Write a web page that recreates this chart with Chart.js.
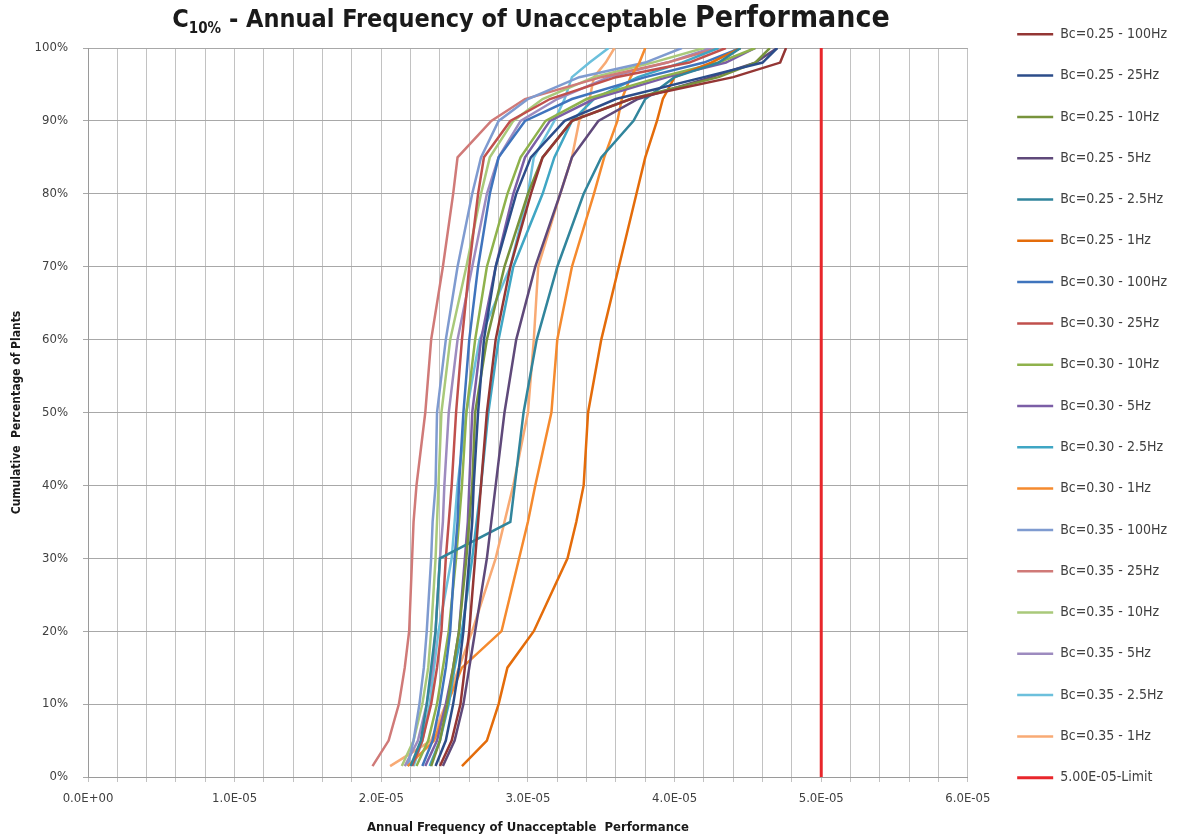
<!DOCTYPE html>
<html lang="en">
<head>
    <meta charset="UTF-8">
    <title>C10% - Annual Frequency of Unacceptable Performance</title>
    <script src="https://cdn.jsdelivr.net/npm/chart.js"></script>
    <style>
        body {
            margin: 0;
            background: #ffffff;
        }

        .wrap {
            position: relative;
            width: 1177px;
            height: 837px;
        }

        /* Title drawn as html so the subscript and the bigger last word stay text */
        .title {
            position: absolute;
            top: -1px;
            left: 0;
            width: 1062px;
            text-align: center;
            font-family: 'Liberation Sans Narrow', 'Arial Narrow', 'DejaVu Sans Condensed', sans-serif;
            font-weight: bold;
            font-size: 25px;
            color: #1a1a1a;
            white-space: nowrap;
        }

        .title sub {
            font-size: 15px;
        }

        .title .big {
            font-size: 30px;
        }
    </style>
</head>
<body>
    <div class="wrap">
        <canvas id="c10Chart" width="1177" height="837"></canvas>
        <div class="title">C<sub>10%</sub> - Annual Frequency of Unacceptable <span class="big">Performance</span></div>
    </div>

    <script>
        // cumulative percentage levels shared by every curve
        const levels = [1.5, 5, 10, 15, 20, 30, 35, 40, 50, 60, 70, 80, 85, 90, 93, 96, 98, 100];

        // frequencies, in units of 1E-05 per year
        const bc025_100 = [2.40, 2.48, 2.54, 2.57, 2.60, 2.64, 2.66, 2.68, 2.72, 2.78, 2.88, 3.02, 3.10, 3.30, 3.70, 4.40, 4.72, 4.76];
        const bc025_25  = [2.37, 2.44, 2.49, 2.53, 2.56, 2.60, 2.62, 2.63, 2.66, 2.70, 2.78, 2.92, 3.02, 3.25, 3.60, 4.20, 4.60, 4.70];
        const bc025_10  = [2.34, 2.40, 2.45, 2.49, 2.53, 2.58, 2.60, 2.62, 2.64, 2.72, 2.84, 3.00, 3.10, 3.30, 3.70, 4.30, 4.55, 4.65];
        const bc025_5   = [2.42, 2.50, 2.56, 2.60, 2.64, 2.72, 2.75, 2.78, 2.84, 2.92, 3.05, 3.22, 3.30, 3.48, 3.75, 4.25, 4.55, 4.70];
        const bc025_2_5 = [2.20, 2.27, 2.31, 2.34, 2.37, 2.40, 2.88, 2.91, 2.97, 3.06, 3.20, 3.38, 3.50, 3.72, 3.80, 4.00, 4.30, 4.45];
        const bc025_1   = [2.55, 2.72, 2.80, 2.86, 3.04, 3.27, 3.33, 3.38, 3.41, 3.50, 3.62, 3.74, 3.80, 3.88, 3.92, 4.00, 4.25, 4.45];
        const bc030_100 = [2.28, 2.35, 2.40, 2.44, 2.47, 2.50, 2.52, 2.53, 2.56, 2.60, 2.66, 2.74, 2.80, 2.98, 3.30, 3.80, 4.20, 4.45];
        const bc030_25  = [2.21, 2.28, 2.34, 2.38, 2.41, 2.44, 2.46, 2.48, 2.51, 2.55, 2.60, 2.66, 2.70, 2.88, 3.15, 3.60, 4.10, 4.35];
        const bc030_10  = [2.24, 2.32, 2.38, 2.42, 2.46, 2.51, 2.53, 2.55, 2.58, 2.64, 2.72, 2.86, 2.95, 3.12, 3.40, 3.90, 4.30, 4.55];
        const bc030_5   = [2.30, 2.38, 2.44, 2.49, 2.53, 2.57, 2.59, 2.60, 2.62, 2.68, 2.78, 2.90, 2.98, 3.15, 3.45, 3.95, 4.35, 4.55];
        const bc030_2_5 = [2.33, 2.40, 2.46, 2.50, 2.55, 2.62, 2.65, 2.68, 2.73, 2.80, 2.90, 3.10, 3.18, 3.30, 3.45, 3.75, 4.05, 4.30];
        const bc030_1   = [2.18, 2.36, 2.45, 2.55, 2.82, 2.94, 3.00, 3.05, 3.16, 3.20, 3.30, 3.45, 3.52, 3.61, 3.64, 3.70, 3.76, 3.80];
        const bc035_100 = [2.18, 2.22, 2.26, 2.29, 2.31, 2.34, 2.35, 2.37, 2.38, 2.44, 2.52, 2.62, 2.68, 2.80, 3.00, 3.35, 3.80, 4.05];
        const bc035_25  = [1.94, 2.05, 2.12, 2.16, 2.19, 2.21, 2.22, 2.24, 2.30, 2.34, 2.42, 2.49, 2.52, 2.75, 2.98, 3.50, 3.95, 4.30];
        const bc035_10  = [2.14, 2.22, 2.28, 2.32, 2.34, 2.37, 2.38, 2.39, 2.41, 2.47, 2.58, 2.68, 2.74, 2.90, 3.10, 3.45, 3.85, 4.20];
        const bc035_5   = [2.16, 2.25, 2.31, 2.35, 2.37, 2.40, 2.42, 2.43, 2.46, 2.52, 2.62, 2.72, 2.80, 2.95, 3.20, 3.55, 3.95, 4.25];
        const bc035_2_5 = [2.22, 2.28, 2.33, 2.36, 2.39, 2.48, 2.50, 2.52, 2.58, 2.67, 2.88, 3.00, 3.04, 3.18, 3.25, 3.30, 3.42, 3.55];
        const bc035_1   = [2.06, 2.34, 2.44, 2.53, 2.62, 2.78, 2.84, 2.90, 3.00, 3.04, 3.07, 3.22, 3.30, 3.35, 3.42, 3.45, 3.53, 3.59];

        const limitX = [5.0, 5.0];
        const limitY = [0, 100];

        const UNIT = 1e-5;

        const series = [
            { label: 'Bc=0.25 - 100Hz', xs: bc025_100, color: '#943634' },
            { label: 'Bc=0.25 - 25Hz',  xs: bc025_25,  color: '#2c4d8a' },
            { label: 'Bc=0.25 - 10Hz',  xs: bc025_10,  color: '#77933c' },
            { label: 'Bc=0.25 - 5Hz',   xs: bc025_5,   color: '#5f497a' },
            { label: 'Bc=0.25 - 2.5Hz', xs: bc025_2_5, color: '#31859c' },
            { label: 'Bc=0.25 - 1Hz',   xs: bc025_1,   color: '#e46c0a' },
            { label: 'Bc=0.30 - 100Hz', xs: bc030_100, color: '#3f74bd' },
            { label: 'Bc=0.30 - 25Hz',  xs: bc030_25,  color: '#c0504d' },
            { label: 'Bc=0.30 - 10Hz',  xs: bc030_10,  color: '#8fb24c' },
            { label: 'Bc=0.30 - 5Hz',   xs: bc030_5,   color: '#7b5ea6' },
            { label: 'Bc=0.30 - 2.5Hz', xs: bc030_2_5, color: '#3fa6c4' },
            { label: 'Bc=0.30 - 1Hz',   xs: bc030_1,   color: '#f58a2e' },
            { label: 'Bc=0.35 - 100Hz', xs: bc035_100, color: '#7f9bd0' },
            { label: 'Bc=0.35 - 25Hz',  xs: bc035_25,  color: '#d07a78' },
            { label: 'Bc=0.35 - 10Hz',  xs: bc035_10,  color: '#a9c97a' },
            { label: 'Bc=0.35 - 5Hz',   xs: bc035_5,   color: '#9d8bbf' },
            { label: 'Bc=0.35 - 2.5Hz', xs: bc035_2_5, color: '#6cc0dc' },
            { label: 'Bc=0.35 - 1Hz',   xs: bc035_1,   color: '#f8aa74' },
        ];

        const datasets = series.map(s => ({
            label: s.label,
            data: s.xs.map((v, i) => ({ x: v * UNIT, y: levels[i] })),
            xAxisID: 'x',
            yAxisID: 'y',
            borderColor: s.color,
            backgroundColor: s.color,
            borderWidth: 2.5,
            pointRadius: 0,
            tension: 0,
            fill: false,
        }));

        datasets.push({
            label: '5.00E-05-Limit',
            data: limitX.map((v, i) => ({ x: v * UNIT, y: limitY[i] })),
            xAxisID: 'x',
            yAxisID: 'y',
            borderColor: '#e8262b',
            backgroundColor: '#e8262b',
            borderWidth: 3,
            pointRadius: 0,
            fill: false,
        });

        // 1E-05 -> "1.0E-05", 0 -> "0.0E+00"
        function sci(value) {
            const n = Math.round(value / UNIT);
            if (n === 0) return '0.0E+00';
            return n.toFixed(1) + 'E-05';
        }

        const FONT = "'Liberation Sans Narrow', 'DejaVu Sans Condensed', sans-serif";

        // blank axes used only as spacers (room for the title, gap before the legend)
        const spacer = (pos, size) => ({
            type: 'linear',
            position: pos,
            min: 0,
            max: 1,
            display: true,
            grid: { display: false },
            border: { display: false },
            ticks: { display: false },
            afterFit: s => {
                if (pos === 'top') s.height = size; else s.width = size;
            }
        });

        const ctx = document.getElementById('c10Chart').getContext('2d');
        new Chart(ctx, {
            type: 'line',
            data: { datasets: datasets },
            options: {
                responsive: false,
                animation: false,
                layout: { padding: { top: 0, left: 0, right: 0, bottom: 0 } },
                plugins: {
                    title: { display: false },
                    tooltip: { enabled: false },
                    legend: {
                        position: 'right',
                        align: 'start',
                        labels: {
                            usePointStyle: true,
                            pointStyle: 'line',
                            pointStyleWidth: 36,
                            padding: 27.3,
                            color: '#404040',
                            font: { family: FONT, size: 14 },
                        }
                    }
                },
                scales: {
                    x: {
                        type: 'linear',
                        min: 0,
                        max: 6e-5,
                        grid: { color: '#c2c2c2', lineWidth: 1, drawTicks: true, tickLength: 5 },
                        border: { color: '#9a9a9a' },
                        afterFit: s => { s.height = 60; },
                        ticks: {
                            stepSize: 2e-6,
                            autoSkip: false,
                            maxRotation: 0,
                            padding: 9,
                            color: '#404040',
                            font: { family: FONT, size: 13 },
                            callback: function (value) {
                                const k = Math.round(value / 2e-6);
                                return k % 5 === 0 ? sci(value) : '';
                            }
                        },
                        title: {
                            display: true,
                            text: 'Annual Frequency of Unacceptable  Performance',
                            color: '#1a1a1a',
                            font: { family: FONT, size: 13, weight: 'bold' },
                            padding: { top: 4, bottom: 2 }
                        }
                    },
                    top: spacer('top', 48),
                    gap: spacer('right', 22),
                    y: {
                        min: 0,
                        max: 100,
                        grid: { color: '#a8a8a8', lineWidth: 1, drawTicks: true, tickLength: 5 },
                        border: { color: '#9a9a9a' },
                        afterFit: s => { s.width = 88; },
                        ticks: {
                            stepSize: 10,
                            padding: 15,
                            color: '#404040',
                            font: { family: FONT, size: 13 },
                            callback: v => v + '%'
                        },
                        title: {
                            display: true,
                            text: 'Cumulative  Percentage of Plants',
                            color: '#1a1a1a',
                            font: { family: FONT, size: 12, weight: 'bold' },
                            padding: { top: 10, bottom: 2 }
                        }
                    }
                }
            }
        });
    </script>
</body>
</html>
